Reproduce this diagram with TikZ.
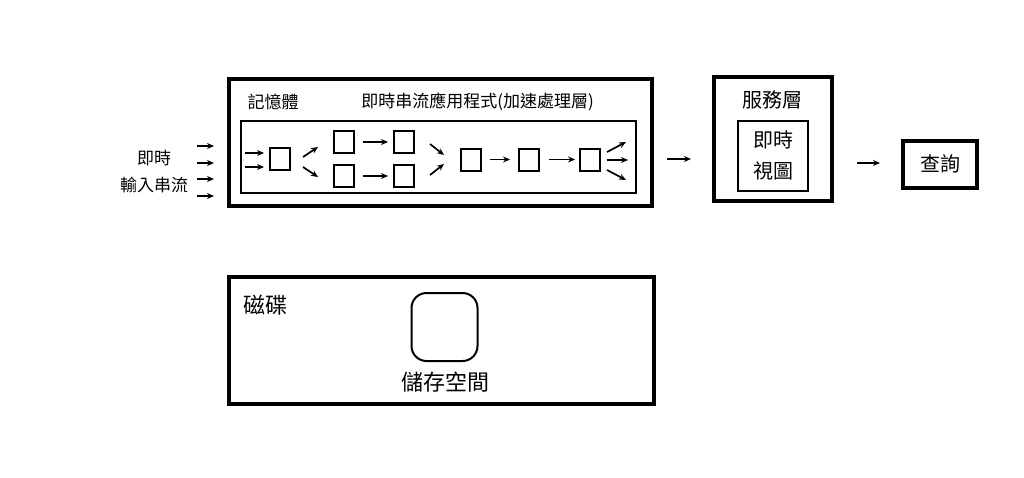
\documentclass[tikz,border=0pt]{standalone}
\usepackage{fontspec}
\setmainfont{Noto Sans CJK TC}
\usetikzlibrary{arrows.meta}
\tikzset{
  thickbox/.style={draw, line width=4pt, inner sep=0pt},
  thinbox/.style={draw, line width=2pt, inner sep=0pt},
  sq/.style={draw, line width=2pt, minimum width=20pt, minimum height=22pt, inner sep=0pt},
  arr/.style={-{Stealth[length=7pt,width=6pt]}, line width=1.7pt},
  txt/.style={inner sep=0pt, align=center},
}
\begin{document}
\begin{tikzpicture}[x=1pt,y=-1pt]
\useasboundingbox[fill=white] (0,0) rectangle (1024,477);

% memory box
\node[thickbox, minimum width=423.5pt, minimum height=127pt] (mem) at (440.25,142.5) {};
\node[thinbox, minimum width=395pt, minimum height=72pt] (inner) at (438.5,157) {};
\node[txt, font=\fontsize{17}{20}\selectfont] (memlbl) at (273,102) {記憶體};
\node[txt, font=\fontsize{17}{20}\selectfont] (app) at (477.5,102) {即時串流應用程式(加速處理層)};

% input label
\node[txt, font=\fontsize{17}{27}\selectfont] (inlbl) at (154,171.5) {即時\\輸入串流};

% squares
\node[sq] (s1) at (280,158.5) {};
\node[sq] (p1) at (343.5,142) {};
\node[sq] (p2) at (404,142) {};
\node[sq] (q1) at (343.5,176) {};
\node[sq] (q2) at (404,176) {};
\node[sq] (s3) at (470.5,159.5) {};
\node[sq] (s4) at (529,159.5) {};
\node[sq] (s5) at (590,159.5) {};

% outside input arrows
\foreach \y/\n in {146/a,163/b,179/c,196/d}{
  \coordinate (in\n0) at (197,\y);
  \coordinate (in\n1) at (214,\y);
  \draw[arr] (in\n0) -- (in\n1);
}
% inner input arrows
\coordinate (ia0) at (245,153); \coordinate (ia1) at (264,153);
\coordinate (ib0) at (245,167); \coordinate (ib1) at (264,167);
\draw[arr] (ia0) -- (ia1);
\draw[arr] (ib0) -- (ib1);

% split arrows
\coordinate (d10) at (303,157); \coordinate (d11) at (318,147);
\coordinate (d20) at (303,167); \coordinate (d21) at (318,177);
\draw[arr] (d10) -- (d11);
\draw[arr] (d20) -- (d21);

% pair arrows
\draw[arr, shorten <=8pt, shorten >=5pt] (p1.east) -- (p2.west);
\draw[arr, shorten <=8pt, shorten >=5pt] (q1.east) -- (q2.west);

% merge arrows
\coordinate (m10) at (430,144); \coordinate (m11) at (444,155);
\coordinate (m20) at (430,175); \coordinate (m21) at (444,164);
\draw[arr] (m10) -- (m11);
\draw[arr] (m20) -- (m21);

% chain
\draw[arr, shorten <=8pt, shorten >=8pt] (s3.east) -- (s4.west);
\draw[arr, shorten <=9pt, shorten >=4pt] (s4.east) -- (s5.west);

% fan out
\coordinate (f0) at (607,152); \coordinate (f1) at (626,142);
\coordinate (g0) at (607,160); \coordinate (g1) at (628,160);
\coordinate (h0) at (607,170); \coordinate (h1) at (626,180);
\draw[arr] (f0) -- (f1);
\draw[arr] (g0) -- (g1);
\draw[arr] (h0) -- (h1);

% service layer
\node[thickbox, minimum width=118pt, minimum height=124.5pt] (svc) at (773,138.75) {};
\node[txt, font=\fontsize{20}{24}\selectfont] (svclbl) at (772,100) {服務層};
\node[thinbox, minimum width=70pt, minimum height=70pt] (view) at (773,156) {};
\node[txt, font=\fontsize{20}{31}\selectfont] (viewlbl) at (773,155.5) {即時\\視圖};

% query
\node[thickbox, minimum width=74pt, minimum height=46.5pt, font=\fontsize{20}{24}\selectfont] (query) at (940,164.25) {查詢};

% arrows between stages
\coordinate (ms0) at (667,159); \coordinate (ms1) at (691,159);
\draw[arr] (ms0) -- (ms1);
\coordinate (sq0) at (857,163); \coordinate (sq1) at (880,163);
\draw[arr] (sq0) -- (sq1);

% disk
\node[thickbox, minimum width=425pt, minimum height=127pt] (disk) at (441.5,340.5) {};
\node[txt, font=\fontsize{22}{26}\selectfont] (disklbl) at (265.5,305) {磁碟};
\node[draw, line width=2pt, rounded corners=15pt, minimum width=66pt, minimum height=68pt] (store) at (444.5,327) {};
\node[txt, font=\fontsize{22}{26}\selectfont] (storelbl) at (445,382) {儲存空間};
\end{tikzpicture}
\end{document}
